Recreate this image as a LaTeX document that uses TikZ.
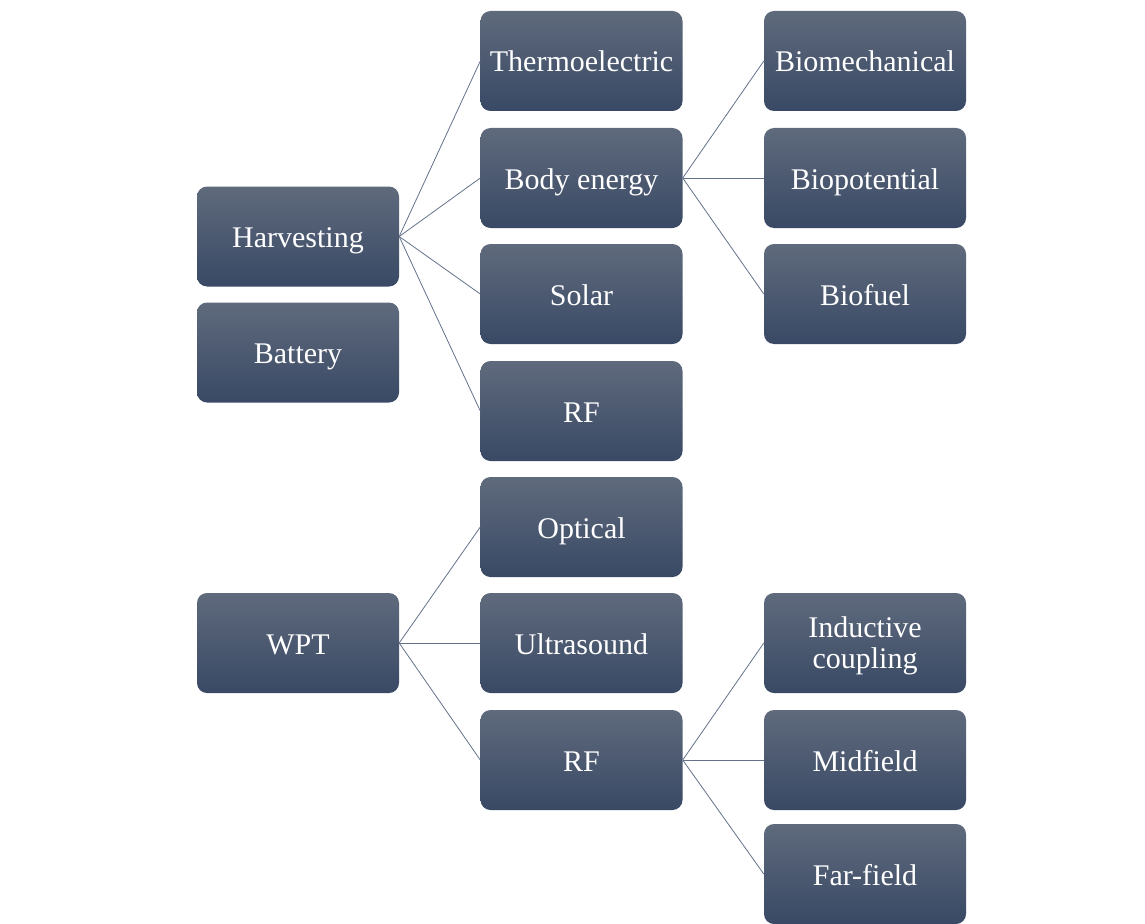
\documentclass[tikz,border=0pt]{standalone}
\usepackage{fontspec}
\setmainfont{Liberation Serif}
\definecolor{boxtop}{RGB}{95,106,124}
\definecolor{boxbot}{RGB}{57,73,101}
\definecolor{linkc}{RGB}{100,114,140}
\begin{document}
\begin{tikzpicture}[x=1pt,y=-1pt,
  box/.style={rectangle, rounded corners=10pt, minimum width=202pt, minimum height=100pt,
    top color=boxtop, bottom color=boxbot, text=white, align=center,
    font=\fontsize{30}{31}\selectfont, inner sep=0pt},
  one/.style={box, text height=27pt, text depth=5pt},
  two/.style={box, text height=55pt, text depth=5pt},
  link/.style={draw=linkc, line width=0.8pt}]
\useasboundingbox (0,0) rectangle (1145,923);
\fill[white] (0,0) rectangle (1145,923);
% column 1
\node[one] (harv) at (298,236.5) {Harvesting};
\node[one] (batt) at (298,352.5) {Battery};
\node[one] (wpt) at (298,643) {WPT};
% column 2
\node[one] (thermo) at (581.5,61) {Thermoelectric};
\node[one] (body) at (581.5,178) {Body energy};
\node[one] (solar) at (581.5,294) {Solar};
\node[one] (rf1) at (581.5,411) {RF};
\node[one] (opt) at (581.5,527) {Optical};
\node[one] (ultra) at (581.5,643) {Ultrasound};
\node[one] (rf2) at (581.5,760) {RF};
% column 3
\node[one] (biomech) at (865,61) {Biomechanical};
\node[one] (biopot) at (865,178) {Biopotential};
\node[one] (biofuel) at (865,294) {Biofuel};
\node[two] (induct) at (865,643) {Inductive\\coupling};
\node[one] (mid) at (865,760) {Midfield};
\node[one] (far) at (865,874) {Far-field};
% connectors
\foreach \c in {thermo,body,solar,rf1} \draw[link] (harv.east) -- (\c.west);
\foreach \c in {biomech,biopot,biofuel} \draw[link] (body.east) -- (\c.west);
\foreach \c in {opt,ultra,rf2} \draw[link] (wpt.east) -- (\c.west);
\foreach \c in {induct,mid,far} \draw[link] (rf2.east) -- (\c.west);
\end{tikzpicture}
\end{document}
